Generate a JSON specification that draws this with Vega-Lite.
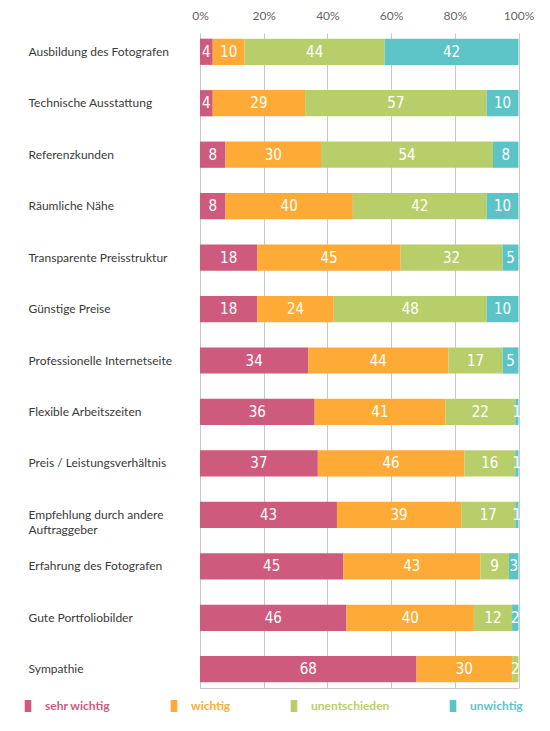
{
  "$schema": "https://vega.github.io/schema/vega-lite/v6.json",
  "width": 318.5,
  "height": 655,
  "autosize": "none",
  "padding": {"left": 200, "top": 33, "right": 31.5, "bottom": 43},
  "background": "white",
  "config": {
    "view": {"stroke": null},
    "font": "Lato"
  },
  "data": {
    "values": [
      {"Kriterium": "Ausbildung des Fotografen", "sehr wichtig": 4, "wichtig": 10, "unentschieden": 44, "unwichtig": 42},
      {"Kriterium": "Technische Ausstattung", "sehr wichtig": 4, "wichtig": 29, "unentschieden": 57, "unwichtig": 10},
      {"Kriterium": "Referenzkunden", "sehr wichtig": 8, "wichtig": 30, "unentschieden": 54, "unwichtig": 8},
      {"Kriterium": "Räumliche Nähe", "sehr wichtig": 8, "wichtig": 40, "unentschieden": 42, "unwichtig": 10},
      {"Kriterium": "Transparente Preisstruktur", "sehr wichtig": 18, "wichtig": 45, "unentschieden": 32, "unwichtig": 5},
      {"Kriterium": "Günstige Preise", "sehr wichtig": 18, "wichtig": 24, "unentschieden": 48, "unwichtig": 10},
      {"Kriterium": "Professionelle Internetseite", "sehr wichtig": 34, "wichtig": 44, "unentschieden": 17, "unwichtig": 5},
      {"Kriterium": "Flexible Arbeitszeiten", "sehr wichtig": 36, "wichtig": 41, "unentschieden": 22, "unwichtig": 1},
      {"Kriterium": "Preis / Leistungsverhältnis", "sehr wichtig": 37, "wichtig": 46, "unentschieden": 16, "unwichtig": 1},
      {"Kriterium": "Empfehlung durch andere Auftraggeber", "sehr wichtig": 43, "wichtig": 39, "unentschieden": 17, "unwichtig": 1},
      {"Kriterium": "Erfahrung des Fotografen", "sehr wichtig": 45, "wichtig": 43, "unentschieden": 9, "unwichtig": 3},
      {"Kriterium": "Gute Portfoliobilder", "sehr wichtig": 46, "wichtig": 40, "unentschieden": 12, "unwichtig": 2},
      {"Kriterium": "Sympathie", "sehr wichtig": 68, "wichtig": 30, "unentschieden": 2, "unwichtig": 0}
    ]
  },
  "transform": [
    {"fold": ["sehr wichtig", "wichtig", "unentschieden", "unwichtig"], "as": ["Bewertung", "Anteil"]},
    {"filter": "datum.Anteil > 0"},
    {"stack": "Anteil", "groupby": ["Kriterium"], "as": ["x0", "x1"]}
  ],
  "encoding": {
    "y": {
      "field": "Kriterium",
      "type": "nominal",
      "sort": null,
      "scale": {"paddingInner": 0.49, "paddingOuter": 0.11},
      "axis": {
        "title": null,
        "ticks": false,
        "grid": false,
        "domain": true,
        "domainColor": "#c8c8c8",
        "domainWidth": 1,
        "labelAlign": "left",
        "labelBaseline": "middle",
        "labelPadding": 172,
        "labelLimit": 180,
        "labelFont": "Lato",
        "labelFontSize": 12,
        "labelColor": "#3a3a3a",
        "labelLineHeight": 15,
        "labelExpr": "datum.value == 'Empfehlung durch andere Auftraggeber' ? ['Empfehlung durch andere', 'Auftraggeber'] : datum.label"
      }
    }
  },
  "layer": [
    {
      "mark": {"type": "bar"},
      "encoding": {
        "x": {
          "field": "x0",
          "type": "quantitative",
          "scale": {"domain": [0, 100], "nice": false},
          "axis": {
            "orient": "top",
            "title": null,
            "values": [0, 20, 40, 60, 80, 100],
            "labelExpr": "datum.value + '%'",
            "grid": true,
            "gridColor": "#c8c8c8",
            "domain": false,
            "ticks": false,
            "labelPadding": 11,
            "labelFont": "Lato",
            "labelFontSize": 12,
            "labelColor": "#666666",
            "labelFlush": false
          }
        },
        "x2": {"field": "x1"},
        "color": {
          "field": "Bewertung",
          "type": "nominal",
          "scale": {
            "domain": ["sehr wichtig", "wichtig", "unentschieden", "unwichtig"],
            "range": ["#CE5A7D", "#FDAB36", "#B8CE6B", "#5CC4C7"]
          },
          "legend": {
            "orient": "none",
            "direction": "horizontal",
            "legendX": -178,
            "legendY": 667,
            "title": null,
            "padding": 0,
            "symbolType": "M-0.55,-1H0.55V1H-0.55Z",
            "symbolSize": 144,
            "symbolStrokeWidth": 0,
            "symbolOpacity": 1,
            "labelOffset": 11,
            "columnPadding": 57,
            "labelFont": "Lato",
            "labelFontSize": 12,
            "labelFontWeight": "bold",
            "labelColor": {"expr": "scale('color', datum.value)"}
          }
        }
      }
    },
    {
      "transform": [
        {"fold": ["x0", "x1"], "as": ["Rand", "Pos"]}
      ],
      "mark": {
        "type": "text",
        "color": "white",
        "font": "DejaVu Sans Condensed, Roboto",
        "fontSize": 15,
        "align": "center",
        "baseline": "middle"
      },
      "encoding": {
        "x": {
          "aggregate": "mean",
          "field": "Pos",
          "type": "quantitative",
          "axis": {
            "orient": "bottom",
            "title": null,
            "labels": false,
            "ticks": false,
            "grid": false,
            "domain": true,
            "domainColor": "#c8c8c8"
          }
        },
        "text": {"field": "Anteil", "type": "quantitative"},
        "detail": {"field": "Bewertung", "type": "nominal"}
      }
    }
  ]
}
